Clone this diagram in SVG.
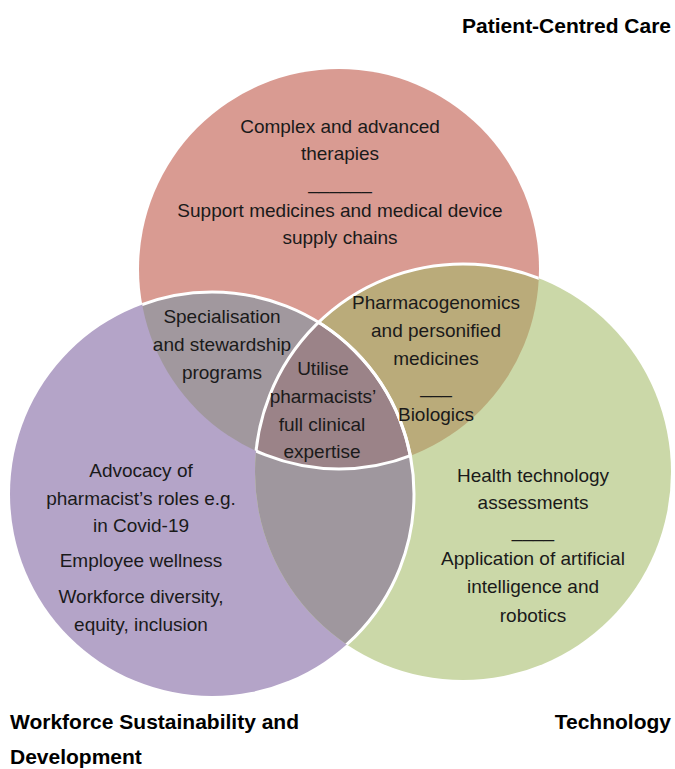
<svg xmlns="http://www.w3.org/2000/svg" width="675" height="769" viewBox="0 0 675 769">
<style>
.t{font-family:"Liberation Sans",Arial,sans-serif;font-size:19px;fill:#1a1a1a;text-anchor:middle}
.h{font-family:"Liberation Sans",Arial,sans-serif;font-size:21px;font-weight:bold;fill:#000}
.edge{fill:none;stroke:#fff;stroke-width:3}
</style>
<defs>
<clipPath id="cR"><circle cx="339" cy="269" r="200"/></clipPath>
<clipPath id="cP"><circle cx="212" cy="494" r="202"/></clipPath>
<clipPath id="cG"><circle cx="463" cy="472" r="208"/></clipPath>
</defs>
<rect width="675" height="769" fill="#fff"/>
<g id="circle-patient-centred-care"><circle cx="339" cy="269" r="200" fill="#D99B92"/></g>
<g id="circle-workforce"><circle cx="212" cy="494" r="202" fill="#B4A4C8"/></g>
<g id="circle-technology"><circle cx="463" cy="472" r="208" fill="#CBD8A8"/></g>
<g id="overlap-patient-workforce" clip-path="url(#cR)"><circle cx="212" cy="494" r="202" fill="#A1989E"/></g>
<g id="overlap-patient-technology" clip-path="url(#cR)"><circle cx="463" cy="472" r="208" fill="#BAAB7A"/></g>
<g id="overlap-workforce-technology" clip-path="url(#cP)"><circle cx="463" cy="472" r="208" fill="#9F979E"/></g>
<g id="overlap-all" clip-path="url(#cR)"><g clip-path="url(#cP)"><circle cx="463" cy="472" r="208" fill="#9B8388"/></g></g>
<g id="connectors">
<circle class="edge" cx="212" cy="494" r="202" clip-path="url(#cR)"/>
<circle class="edge" cx="463" cy="472" r="208" clip-path="url(#cR)"/>
<circle class="edge" cx="212" cy="494" r="202" clip-path="url(#cG)"/>
<g clip-path="url(#cP)"><circle class="edge" cx="339" cy="269" r="200" clip-path="url(#cG)"/></g>
</g>
<g id="label-patient-centred-care">
<text class="h" x="671" y="33" text-anchor="end">Patient-Centred Care</text>
<text class="t" x="340" y="133">Complex and advanced</text>
<text class="t" x="340" y="160">therapies</text>
<text class="t" x="340" y="189">______</text>
<text class="t" x="340" y="217">Support medicines and medical device</text>
<text class="t" x="340" y="244">supply chains</text>
</g>
<g id="label-specialisation">
<text class="t" x="222" y="323">Specialisation</text>
<text class="t" x="222" y="351">and stewardship</text>
<text class="t" x="222" y="379">programs</text>
</g>
<g id="label-pharmacogenomics">
<text class="t" x="436" y="309">Pharmacogenomics</text>
<text class="t" x="436" y="337">and personified</text>
<text class="t" x="436" y="365">medicines</text>
<text class="t" x="436" y="393">___</text>
<text class="t" x="436" y="421">Biologics</text>
</g>
<g id="label-centre">
<text class="t" x="323" y="375">Utilise</text>
<text class="t" x="323" y="403">pharmacists’</text>
<text class="t" x="322" y="431">full clinical</text>
<text class="t" x="322" y="458">expertise</text>
</g>
<g id="label-workforce">
<text class="t" x="141" y="477">Advocacy of</text>
<text class="t" x="141" y="505">pharmacist’s roles e.g.</text>
<text class="t" x="141" y="532">in Covid-19</text>
<text class="t" x="141" y="567">Employee wellness</text>
<text class="t" x="141" y="603">Workforce diversity,</text>
<text class="t" x="141" y="631">equity, inclusion</text>
<text class="h" x="10" y="729">Workforce Sustainability and</text>
<text class="h" x="10" y="764">Development</text>
</g>
<g id="label-technology">
<text class="t" x="533" y="482">Health technology</text>
<text class="t" x="533" y="509">assessments</text>
<text class="t" x="533" y="537">____</text>
<text class="t" x="533" y="565">Application of artificial</text>
<text class="t" x="533" y="593">intelligence and</text>
<text class="t" x="533" y="622">robotics</text>
<text class="h" x="671" y="729" text-anchor="end">Technology</text>
</g>
</svg>
